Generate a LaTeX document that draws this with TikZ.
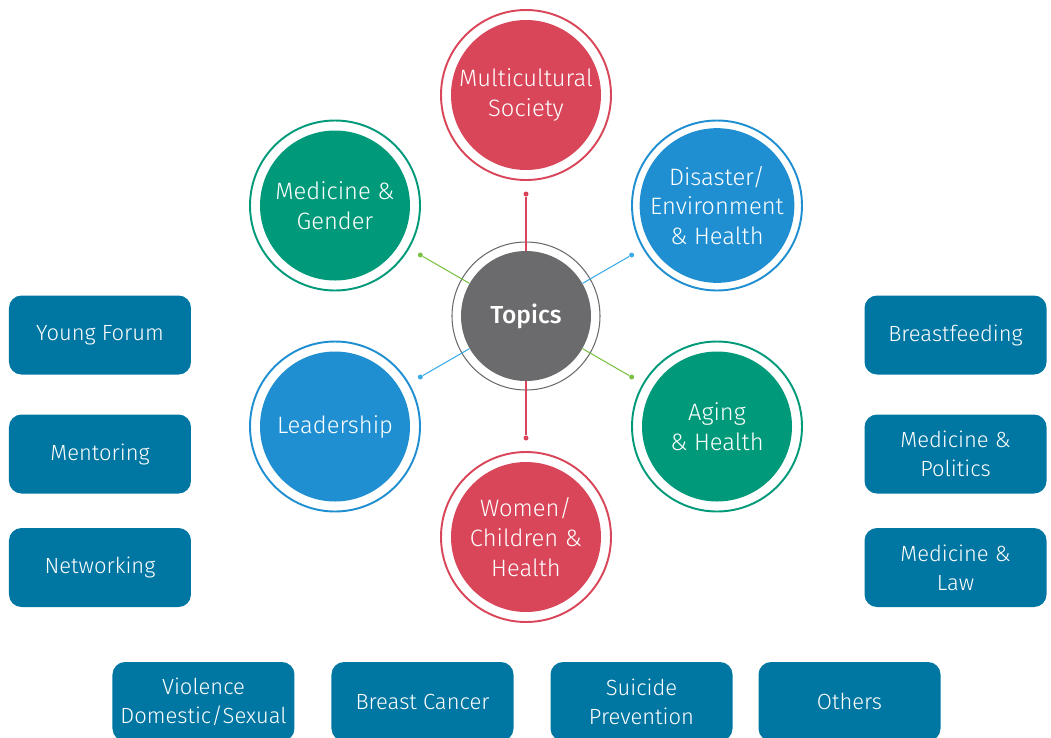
\documentclass[tikz,border=0pt]{standalone}
\usepackage{fontspec}
\setmainfont{Fira Sans}[UprightFont=* Light, BoldFont=* Medium]
\usepackage{tikz}

\definecolor{topred}{HTML}{D94659}
\definecolor{topgreen}{HTML}{009A7A}
\definecolor{topblue}{HTML}{1F8FD2}
\definecolor{topgray}{HTML}{6B6B6D}
\definecolor{boxblue}{HTML}{0076A2}
\definecolor{linegreen}{HTML}{7AC143}
\definecolor{lineblue}{HTML}{3AABE6}

\tikzset{
  topic/.style={circle,minimum size=3cm,inner sep=0pt,align=center,text=white,font=\fontsize{13.5}{17}\selectfont},
  ring/.style={line width=1.1pt},
  dot/.style={circle,fill,inner sep=0pt,minimum size=0.1cm},
  spoke/.style={line width=0.6pt},
  tag/.style={rounded corners=0.25cm,fill=boxblue,minimum width=3.64cm,minimum height=1.58cm,inner xsep=2pt,align=center,text=white,font=\fontsize{12.5}{16.5}\selectfont}
}

\begin{document}
\begin{tikzpicture}
  \useasboundingbox (-10.52,6.32) rectangle (10.50,-8.42);

  \node[circle,fill=topgray,minimum size=2.6cm,text=white,font=\fontsize{14}{17}\selectfont\bfseries] (topics) at (0,0) {Topics}; % centre
  \draw[topgray,line width=0.6pt] (topics.center) circle (1.48);

  \node[topic,fill=topred] (multi) at (0,4.42) {Multicultural\\Society};
  \node[topic,fill=topgreen] (gender) at (-3.82,2.21) {Medicine \&\\Gender};
  \node[topic,fill=topblue] (disaster) at (3.82,2.21) {Disaster/\\Environment\\\& Health};
  \node[topic,fill=topblue] (leader) at (-3.82,-2.21) {Leadership};
  \node[topic,fill=topgreen] (aging) at (3.82,-2.21) {Aging\\\& Health};
  \node[topic,fill=topred] (women) at (0,-4.42) {Women/\\Children \&\\Health};

  % outer rings
  \draw[ring,topred] (multi.center) circle (1.7);
  \draw[ring,topgreen] (gender.center) circle (1.7);
  \draw[ring,topblue] (disaster.center) circle (1.7);
  \draw[ring,topblue] (leader.center) circle (1.7);
  \draw[ring,topgreen] (aging.center) circle (1.7);
  \draw[ring,topred] (women.center) circle (1.7);

  % spoke ends
  \node[dot,topred] (d1) at (90:2.44) {};
  \node[dot,linegreen] (d2) at (150:2.44) {};
  \node[dot,lineblue] (d3) at (30:2.44) {};
  \node[dot,lineblue] (d4) at (210:2.44) {};
  \node[dot,linegreen] (d5) at (330:2.44) {};
  \node[dot,topred] (d6) at (270:2.44) {};

  \draw[spoke,topred] (topics) -- (d1);
  \draw[spoke,linegreen] (topics) -- (d2);
  \draw[spoke,lineblue] (topics) -- (d3);
  \draw[spoke,lineblue] (topics) -- (d4);
  \draw[spoke,linegreen] (topics) -- (d5);
  \draw[spoke,topred] (topics) -- (d6);

  % side boxes
  \node[tag] (young) at (-8.52,-0.38) {Young Forum};
  \node[tag] (mentor) at (-8.52,-2.76) {Mentoring};
  \node[tag] (network) at (-8.52,-5.03) {Networking};
  \node[tag] (breastf) at (8.59,-0.38) {Breastfeeding};
  \node[tag] (politics) at (8.59,-2.76) {Medicine \&\\Politics};
  \node[tag] (law) at (8.59,-5.03) {Medicine \&\\Law};

  % bottom boxes
  \node[tag] (violence) at (-6.45,-7.71) {Violence\\Domestic/Sexual};
  \node[tag] (cancer) at (-2.07,-7.71) {Breast Cancer};
  \node[tag] (suicide) at (2.31,-7.71) {Suicide\\Prevention};
  \node[tag] (others) at (6.47,-7.71) {Others};
\end{tikzpicture}
\end{document}
